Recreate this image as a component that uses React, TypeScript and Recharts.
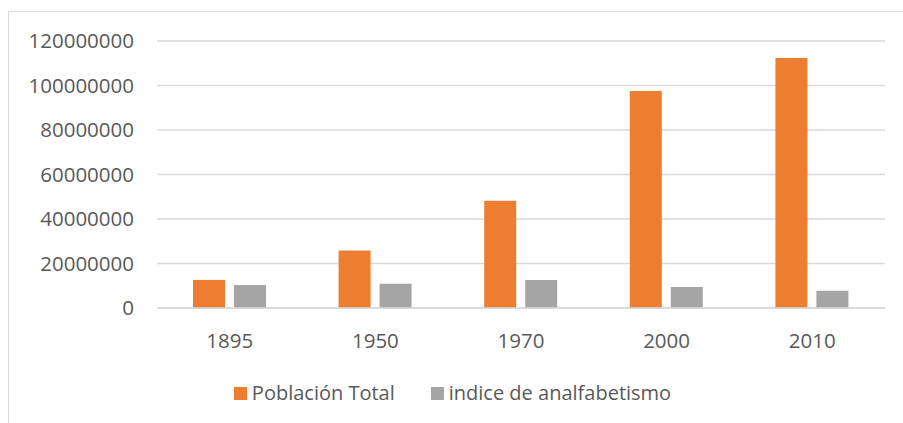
import { Bar, BarChart, CartesianGrid, Legend, XAxis, YAxis } from 'recharts'

const years = ['1895', '1950', '1970', '2000', '2010']
const poblacionTotal = [12630000, 25790000, 48230000, 97480000, 112340000]
const indiceAnalfabetismo = [10300000, 10900000, 12600000, 9400000, 7800000]
const yTicks = [0, 20000000, 40000000, 60000000, 80000000, 100000000, 120000000]

const ORANGE = '#ED7D31'
const GRAY = '#A5A5A5'
const TEXT = '#595959'
const GRID = '#D9D9D9'
const FONT = '"Open Sans", sans-serif'

const data = years.map((year, i) => ({
  year,
  poblacion: poblacionTotal[i],
  indice: indiceAnalfabetismo[i],
}))

const legendItems = [
  { label: 'Población Total', colour: ORANGE },
  { label: 'indice de analfabetismo', colour: GRAY },
]

function ChartLegend() {
  return (
    <div
      style={{
        height: 24,
        display: 'flex',
        justifyContent: 'center',
        alignItems: 'center',
        fontFamily: FONT,
        fontSize: 20,
        color: TEXT,
      }}
    >
      {legendItems.map((item, i) => (
        <div
          key={item.label}
          style={{ display: 'flex', alignItems: 'center', marginLeft: i > 0 ? 36 : 0 }}
        >
          <span
            style={{ width: 13, height: 13, background: item.colour, marginRight: 5, display: 'inline-block' }}
          />
          <span style={{ lineHeight: '24px' }}>{item.label}</span>
        </div>
      ))}
    </div>
  )
}

export default function App() {
  return (
    <div
      style={{
        position: 'fixed',
        left: 0,
        top: 0,
        width: 903,
        height: 423,
        overflow: 'hidden',
        background: '#fff',
      }}
    >
      <div
        style={{
          position: 'absolute',
          left: 8,
          top: 11,
          width: 1000,
          height: 500,
          borderTop: `1px solid ${GRID}`,
          borderLeft: `1px solid ${GRID}`,
        }}
      />
      <div style={{ position: 'absolute', left: 0, top: 0 }}>
        <BarChart
          width={903}
          height={423}
          data={data}
          margin={{ top: 41, right: 18, bottom: 18, left: 0 }}
          barSize={32}
          barGap={9}
        >
          <CartesianGrid horizontal vertical={false} stroke={GRID} strokeWidth={1.3} />
          <XAxis
            dataKey="year"
            height={73}
            tickLine={false}
            tickSize={0}
            tickMargin={25}
            axisLine={{ stroke: GRID, strokeWidth: 1.3 }}
            tick={{ fontSize: 20.5, fill: TEXT, fontFamily: FONT }}
          />
          <YAxis
            width={157}
            domain={[0, 120000000]}
            ticks={yTicks}
            interval={0}
            tickLine={false}
            tickSize={0}
            tickMargin={23}
            axisLine={false}
            tick={{ fontSize: 20.5, fill: TEXT, fontFamily: FONT }}
          />
          <Legend
            verticalAlign="bottom"
            content={() => <ChartLegend />}
            wrapperStyle={{ left: 0, width: 905 }}
          />
          <Bar dataKey="poblacion" name="Población Total" fill={ORANGE} isAnimationActive={false} />
          <Bar dataKey="indice" name="indice de analfabetismo" fill={GRAY} isAnimationActive={false} />
        </BarChart>
      </div>
    </div>
  )
}
